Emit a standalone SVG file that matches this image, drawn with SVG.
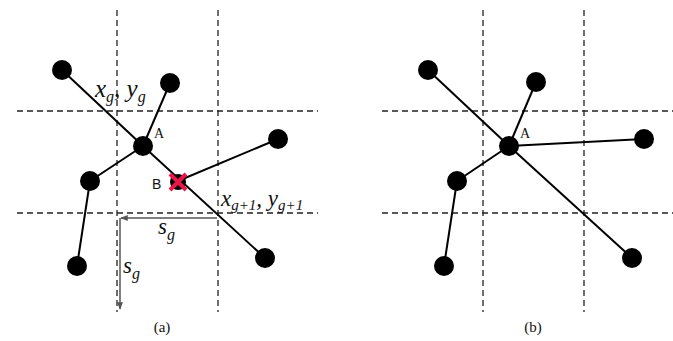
<svg xmlns="http://www.w3.org/2000/svg" width="673" height="341" viewBox="0 0 673 341">
<defs>
<style>
.grid{stroke:#222;stroke-width:1.3;stroke-dasharray:6 4;fill:none}
.edge{stroke:#000;stroke-width:2;fill:none}
.node{fill:#000}
.dim{stroke:#555;stroke-width:1.5;fill:none}
.math{font-style:italic;fill:#111}
.lbl{fill:#111}
</style>
<marker id="ah" viewBox="0 0 10 10" refX="9" refY="5" markerWidth="5" markerHeight="5" orient="auto">
<path d="M0,1 L10,5 L0,9 z" fill="#555"/>
</marker>
</defs>
<rect width="673" height="341" fill="#fff"/>
<g id="grid-a">
<line class="grid" x1="117" y1="10" x2="117" y2="312"/>
<line class="grid" x1="218" y1="10" x2="218" y2="312"/>
<line class="grid" x1="17" y1="111" x2="318" y2="111"/>
<line class="grid" x1="17" y1="213" x2="318" y2="213"/>
</g>
<g id="grid-b">
<line class="grid" x1="483" y1="10" x2="483" y2="312"/>
<line class="grid" x1="584" y1="10" x2="584" y2="312"/>
<line class="grid" x1="382" y1="111" x2="673" y2="111"/>
<line class="grid" x1="382" y1="213" x2="673" y2="213"/>
</g>
<g id="connectors">
<line class="edge" x1="62" y1="70" x2="143" y2="146"/>
<line class="edge" x1="143" y1="146" x2="170" y2="83"/>
<line class="edge" x1="143" y1="146" x2="90" y2="181"/>
<line class="edge" x1="90" y1="181" x2="77" y2="266"/>
<line class="edge" x1="143" y1="146" x2="265" y2="258"/>
<line class="edge" x1="178" y1="181" x2="278" y2="139"/>
<line class="edge" x1="428" y1="70" x2="509" y2="146"/>
<line class="edge" x1="509" y1="146" x2="536" y2="82"/>
<line class="edge" x1="509" y1="146" x2="457" y2="181"/>
<line class="edge" x1="457" y1="181" x2="444" y2="266"/>
<line class="edge" x1="509" y1="146" x2="632" y2="258"/>
<line class="edge" x1="509" y1="146" x2="644" y2="139"/>
<line class="dim" x1="217" y1="218" x2="121" y2="218" marker-end="url(#ah)"/>
<line class="dim" x1="120" y1="218" x2="120" y2="309" marker-end="url(#ah)"/>
</g>
<g id="node-a-tl"><circle class="node" cx="62" cy="70" r="10"/></g>
<g id="node-a-t"><circle class="node" cx="170" cy="83" r="10"/></g>
<g id="node-a-A"><circle class="node" cx="143" cy="146" r="10"/><text class="lbl" x="154" y="138" font-size="14" font-family="'Liberation Serif','DejaVu Serif',serif">A</text></g>
<g id="node-a-r"><circle class="node" cx="278" cy="139" r="10"/></g>
<g id="node-a-l"><circle class="node" cx="90" cy="181" r="10"/></g>
<g id="node-a-B"><circle class="node" cx="178" cy="182" r="8"/>
<path d="M170,174 L186,190 M186,174 L170,190" stroke="#e8174a" stroke-width="4" fill="none"/>
<text class="lbl" x="152" y="189" font-size="14" font-family="'Liberation Sans','DejaVu Sans',sans-serif">B</text></g>
<g id="node-a-bl"><circle class="node" cx="77" cy="266" r="10"/></g>
<g id="node-a-br"><circle class="node" cx="265" cy="258" r="10"/></g>
<g id="node-b-tl"><circle class="node" cx="428" cy="70" r="10"/></g>
<g id="node-b-t"><circle class="node" cx="536" cy="82" r="10"/></g>
<g id="node-b-A"><circle class="node" cx="509" cy="146" r="10"/><text class="lbl" x="520" y="138" font-size="14" font-family="'Liberation Serif','DejaVu Serif',serif">A</text></g>
<g id="node-b-r"><circle class="node" cx="644" cy="139" r="10"/></g>
<g id="node-b-l"><circle class="node" cx="457" cy="181" r="10"/></g>
<g id="node-b-bl"><circle class="node" cx="444" cy="266" r="10"/></g>
<g id="node-b-br"><circle class="node" cx="632" cy="258" r="10"/></g>
<g id="labels" font-family="'Liberation Serif','DejaVu Serif',serif">
<text class="math" x="95" y="97" font-size="25">x<tspan font-size="16" dy="5">g</tspan><tspan dy="-5">, y</tspan><tspan font-size="16" dy="5">g</tspan></text>
<text class="math" x="221" y="206" font-size="23">x<tspan font-size="15" dy="4">g+1</tspan><tspan dy="-4">, y</tspan><tspan font-size="15" dy="4">g+1</tspan></text>
<text class="math" x="158" y="234" font-size="23">s<tspan font-size="16" dy="6">g</tspan></text>
<text class="math" x="123" y="273" font-size="23">s<tspan font-size="16" dy="6">g</tspan></text>
<text class="lbl" x="162" y="332" font-size="15" text-anchor="middle">(a)</text>
<text class="lbl" x="533" y="332" font-size="15" text-anchor="middle">(b)</text>
</g>
</svg>
